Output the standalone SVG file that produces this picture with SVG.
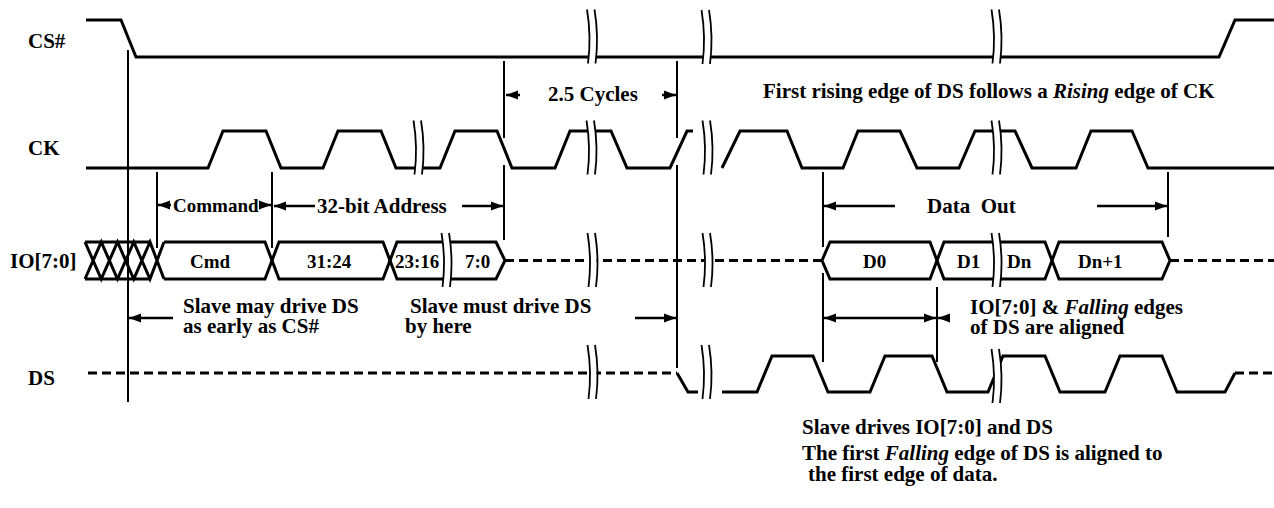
<svg xmlns="http://www.w3.org/2000/svg" width="1274" height="508" viewBox="0 0 1274 508">
<defs>
<style>
.sig{fill:none;stroke:#000;stroke-width:3;stroke-linejoin:miter;stroke-linecap:butt}
.dash{stroke-dasharray:9 5}
.vl{fill:none;stroke:#000;stroke-width:2}
.arr{fill:none;stroke:#000;stroke-width:2.5}
.t{font-family:"Liberation Serif","Times New Roman",serif;font-weight:bold;font-size:21px;fill:#000}
.s{font-size:19px}
.i{font-style:italic}
.bk{fill:none;stroke:#000;stroke-width:1.8}
</style>
<marker id="ah" markerUnits="userSpaceOnUse" markerWidth="13" markerHeight="10" refX="12" refY="5" orient="auto-start-reverse"><path d="M0,0.5 L12,5 L0,9.5 z" fill="#000"/></marker>
<g id="brk"><rect x="-3" y="-27" width="7.5" height="54" fill="#fff"/><path class="bk" d="M-4.5,-27 Q0,0 -3.5,27 M3,-27 Q7.5,0 4,27"/></g>
</defs>
<rect width="1274" height="508" fill="#fff"/>

<g id="labels" class="t">
<text x="28" y="48">CS#</text>
<text x="28" y="155">CK</text>
<text x="10" y="268">IO[7:0]</text>
<text x="28" y="385">DS</text>
</g>

<g id="sig-cs">
<path class="sig" d="M86,20 H121 L136,57 H1219 L1235,20 H1274"/>
</g>

<g id="sig-ck">
<path class="sig" d="M86,168 H208 L223,131 H266 L281,168 H323 L338,131 H381 L396,168 H440 L455,131 H497 L512,168 H555 L570,131 H611 L627,168 H670 L687,131 H693"/>
<path class="sig" d="M722,168 L740,131 H787 L802,168 H843 L858,131 H900 L917,168 H959 L975,131 H1015 L1032,168 H1076 L1091,131 H1132 L1148,168 H1274"/>
</g>

<g id="sig-io">
<path class="sig" d="M85,242 H150 M85,279 H150 M85,242 L101.25,279 L117.5,242 L133.75,279 L150,242 L164,279 M85,279 L101.25,242 L117.5,279 L133.75,242 L150,279 L164,242"/>
<path class="sig" d="M164,242 H265 L272,260.5 L265,279 H164"/>
<path class="sig" d="M272,260.5 L279,242 H383 L390,260.5 L383,279 H279 Z"/>
<path class="sig" d="M450,242 H397 L390,260.5 L397,279 H450"/>
<path class="sig" d="M444,242 H496 L505,260.5 L496,279 H444"/>
<path class="sig dash" d="M505,260.5 H822"/>
<path class="sig" d="M822,260.5 L830,242 H930 L937,260.5 L930,279 H830 Z"/>
<path class="sig" d="M937,260.5 L944,242 H1045 L1052,260.5 L1045,279 H944 Z"/>
<path class="sig" d="M1052,260.5 L1059,242 H1162 L1170,260.5 L1162,279 H1059 Z"/>
<path class="sig dash" d="M1170,260.5 H1274"/>
<g class="t s">
<text x="190" y="268">Cmd</text>
<text x="307" y="268">31:24</text>
<text x="395" y="268">23:16</text>
<text x="465" y="268">7:0</text>
<text x="863" y="268">D0</text>
<text x="957" y="268">D1</text>
<text x="1007" y="268">Dn</text>
<text x="1078" y="268">Dn+1</text>
</g>
</g>

<g id="sig-ds">
<path class="sig dash" d="M88,373 H677"/>
<path class="sig" d="M677,373 L688,392 H698"/>
<path class="sig" d="M722,392 H757 L772,356 H813 L828,392 H870 L885,356 H932 L947,392 H988 L1003,356 H1045 L1060,392 H1105 L1120,356 H1162 L1177,392 H1225 L1235,373"/>
<path class="sig dash" d="M1235,373 H1274"/>
</g>

<g id="breaks">
<use href="#brk" x="591.5" y="36.5"/>
<use href="#brk" x="706" y="37"/>
<use href="#brk" x="996" y="36.5"/>
<use href="#brk" x="418" y="147.5"/>
<use href="#brk" x="591" y="147.5"/>
<use href="#brk" x="707" y="147.5"/>
<use href="#brk" x="996" y="147.5"/>
<use href="#brk" x="446" y="260"/>
<use href="#brk" x="592" y="260"/>
<use href="#brk" x="707" y="260"/>
<use href="#brk" x="996" y="260"/>
<use href="#brk" x="592" y="372"/>
<use href="#brk" x="706" y="372"/>
<use href="#brk" x="996" y="376"/>
</g>

<g id="markers">
<path class="vl" d="M128,50 V402 M157,172 V248 M272,172 V248 M504,61 V138 M504,165 V240 M677,61 V138 M677,165 V368 M823,172 V247 M823,273 V362 M937,287 V362 M1168,172 V237"/>
</g>

<g id="connectors" class="arr">
<line x1="520" y1="95" x2="506" y2="95" marker-end="url(#ah)"/>
<line x1="662" y1="95" x2="676" y2="95" marker-end="url(#ah)"/>
<line x1="171" y1="205" x2="158" y2="205" marker-end="url(#ah)"/>
<line x1="260" y1="205" x2="271" y2="205" marker-end="url(#ah)"/>
<line x1="315" y1="206" x2="274" y2="206" marker-end="url(#ah)"/>
<line x1="462" y1="206" x2="503" y2="206" marker-end="url(#ah)"/>
<line x1="895" y1="206" x2="824" y2="206" marker-end="url(#ah)"/>
<line x1="1097" y1="206" x2="1167" y2="206" marker-end="url(#ah)"/>
<line x1="173" y1="318" x2="129" y2="318" marker-end="url(#ah)"/>
<line x1="635" y1="318" x2="676" y2="318" marker-end="url(#ah)"/>
<line x1="824" y1="318" x2="936" y2="318" marker-start="url(#ah)" marker-end="url(#ah)"/>
<line x1="950" y1="318" x2="938" y2="318" marker-end="url(#ah)"/>
</g>

<g id="annotations" class="t">
<text x="548" y="101">2.5 Cycles</text>
<text x="763" y="98">First rising edge of DS follows a <tspan class="i">Rising</tspan> edge of CK</text>
<text x="173" y="212" class="s">Command</text>
<text x="317" y="213">32-bit Address</text>
<text x="927" y="213" xml:space="preserve">Data  Out</text>
<text x="183" y="313">Slave may drive DS</text>
<text x="183" y="333">as early as CS#</text>
<text x="410" y="313">Slave must drive DS</text>
<text x="405" y="333">by here</text>
<text x="970" y="314">IO[7:0] &amp; <tspan class="i">Falling</tspan> edges</text>
<text x="970" y="334">of DS are aligned</text>
<text x="802" y="434">Slave drives IO[7:0] and DS</text>
<text x="802" y="460">The first <tspan class="i">Falling</tspan> edge of DS is aligned to</text>
<text x="808" y="481">the first edge of data.</text>
</g>
</svg>
